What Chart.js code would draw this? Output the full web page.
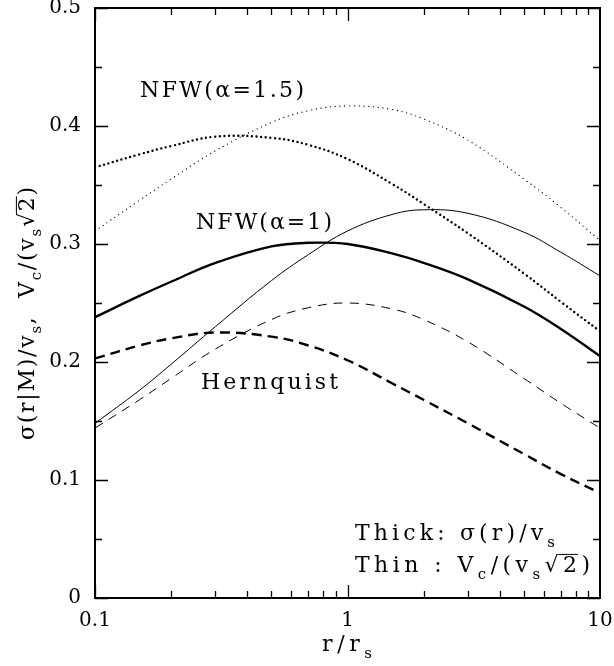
<!DOCTYPE html>
<html>
<head>
<meta charset="utf-8">
<script src="https://cdn.jsdelivr.net/npm/chart.js@4/dist/chart.umd.min.js"></script>
<style>
  html, body { margin: 0; padding: 0; background: #fff; }
  canvas { display: block; }
</style>
</head>
<body>
<canvas id="chart" width="614" height="666"></canvas>
<script>
// radius in units of r_s
const radii = [0.1, 0.15, 0.2, 0.3, 0.5, 0.7, 1, 1.5, 2, 3, 5, 7, 10];

// thick lines: sigma(r)/v_s, thin lines: V_c/(v_s sqrt 2)
const sigmaNfw15 = [0.365, 0.376, 0.383, 0.391, 0.390, 0.384, 0.372, 0.351, 0.334, 0.309, 0.275, 0.251, 0.226];
const vcNfw15    = [0.311, 0.337, 0.355, 0.379, 0.403, 0.413, 0.417, 0.414, 0.406, 0.388, 0.355, 0.331, 0.303];
const sigmaNfw1  = [0.238, 0.256, 0.268, 0.284, 0.298, 0.301, 0.300, 0.292, 0.284, 0.270, 0.247, 0.228, 0.205];
const vcNfw1     = [0.148, 0.176, 0.198, 0.230, 0.269, 0.291, 0.311, 0.325, 0.329, 0.326, 0.310, 0.293, 0.273];
const sigmaHern  = [0.203, 0.214, 0.220, 0.225, 0.2215, 0.214, 0.2015, 0.182, 0.168, 0.148, 0.122, 0.105, 0.089];
const vcHern     = [0.144, 0.168, 0.186, 0.211, 0.236, 0.246, 0.250, 0.245, 0.236, 0.217, 0.186, 0.165, 0.144];

const xTickLabels = [0.1, 1, 10];
const yMajorTicks = [0, 0.1, 0.2, 0.3, 0.4, 0.5];
const yMinorTicks = [0.05, 0.15, 0.25, 0.35, 0.45];

const FONT = 'DejaVu Serif';

function pts(values) {
  return radii.map((r, i) => ({ x: r, y: values[i] }));
}

function line(values, width, dash, cap) {
  return {
    data: pts(values),
    borderColor: '#000',
    borderWidth: width,
    borderDash: dash,
    borderCapStyle: cap || 'butt',
    borderJoinStyle: 'round',
    pointRadius: 0,
    tension: 0.4,
    fill: false,
  };
}

// rich text: segments [{t, sub, over}], spread over a target width
function drawRich(ctx, segs, x, y, size, target) {
  const subSize = Math.round(size * 0.68);
  const chars = [];
  segs.forEach(s => {
    for (const ch of s.t) chars.push({ ch, sub: !!s.sub, over: !!s.over });
  });
  let natural = 0;
  chars.forEach(c => {
    ctx.font = `${c.sub ? subSize : size}px "${FONT}"`;
    c.w = ctx.measureText(c.ch).width;
    natural += c.w;
  });
  const ls = target ? Math.max(0, (target - natural) / (chars.length - 1)) : 0;
  let cx = x;
  chars.forEach(c => {
    ctx.font = `${c.sub ? subSize : size}px "${FONT}"`;
    const cy = c.sub ? y + size * 0.3 : y;
    ctx.fillText(c.ch, cx, cy);
    if (c.over) {
      ctx.beginPath();
      ctx.lineWidth = 1;
      ctx.moveTo(cx - ls, y - size * 0.8);
      ctx.lineTo(cx + c.w + 1, y - size * 0.8);
      ctx.stroke();
    }
    cx += c.w + ls;
  });
}

const frame = {
  id: 'frame',
  afterDraw(chart) {
    const { ctx, chartArea: a, scales: { x, y } } = chart;
    ctx.save();
    ctx.strokeStyle = '#000';
    ctx.fillStyle = '#000';
    ctx.lineWidth = 1.3;

    const major = 13, minor = 7;
    ctx.beginPath();
    yMajorTicks.concat(yMinorTicks).forEach(v => {
      const len = yMajorTicks.includes(v) ? major : minor;
      const py = Math.round(y.getPixelForValue(v)) + 0.5;
      ctx.moveTo(a.left, py); ctx.lineTo(a.left + len, py);
      ctx.moveTo(a.right, py); ctx.lineTo(a.right - len, py);
    });
    [0.1, 1].forEach(d => {
      for (let k = 1; k <= 9; k++) {
        const v = d * k;
        const len = k === 1 ? major : minor;
        const px = Math.round(x.getPixelForValue(v)) + 0.5;
        ctx.moveTo(px, a.bottom); ctx.lineTo(px, a.bottom - len);
        ctx.moveTo(px, a.top); ctx.lineTo(px, a.top + len);
      }
    });
    ctx.stroke();

    ctx.lineWidth = 2;
    ctx.strokeRect(a.left, a.top, a.right - a.left, a.bottom - a.top);

    ctx.textBaseline = 'alphabetic';
    ctx.textAlign = 'left';
    drawRich(ctx, [{ t: 'NFW(α=1.5)' }], 140, 97, 22, 164);
    drawRich(ctx, [{ t: 'NFW(α=1)' }], 196, 229, 22, 136);
    drawRich(ctx, [{ t: 'Hernquist' }], 201, 389, 22, 137);
    drawRich(ctx, [{ t: 'Thick: σ(r)/v' }, { t: 's', sub: true }], 355, 540, 22, 200);
    drawRich(ctx, [{ t: 'Thin : V' }, { t: 'c', sub: true }, { t: '/(v' }, { t: 's', sub: true },
                   { t: '√' }, { t: '2', over: true }, { t: ')' }], 355, 572, 22, 235);

    // axis titles
    drawRich(ctx, [{ t: 'r/r' }, { t: 's', sub: true }], 322, 651, 22, 50);
    ctx.translate(34, 314);
    ctx.rotate(-Math.PI / 2);
    drawRich(ctx, [{ t: 'σ(r|M)/v' }, { t: 's', sub: true }, { t: ',  V' }, { t: 'c', sub: true },
                   { t: '/(v' }, { t: 's', sub: true }, { t: '√' }, { t: '2', over: true }, { t: ')' }],
             -126, 0, 22, 253);
    ctx.restore();
  },
};

new Chart(document.getElementById('chart'), {
  type: 'line',
  data: {
    datasets: [
      line(sigmaNfw15, 2.4, [0, 4.6], 'round'),
      line(vcNfw15, 1.3, [0, 4.8], 'round'),
      line(sigmaNfw1, 2.4, []),
      line(vcNfw1, 1, []),
      line(sigmaHern, 2.4, [10, 6]),
      line(vcHern, 1, [9, 7]),
    ],
  },
  options: {
    responsive: false,
    animation: false,
    devicePixelRatio: 1,
    layout: { padding: { left: 0, right: 14, top: 8, bottom: 0 } },
    plugins: { legend: { display: false }, tooltip: { enabled: false } },
    scales: {
      x: {
        type: 'logarithmic',
        min: 0.1,
        max: 10,
        afterBuildTicks: s => { s.ticks = xTickLabels.map(v => ({ value: v })); },
        afterFit: s => { s.height = 68; s.paddingLeft = 0; s.paddingRight = 0; },
        ticks: {
          callback: v => String(v),
          font: { family: FONT, size: 20 },
          color: '#000',
          padding: 11,
          maxRotation: 0,
        },
        grid: { display: false, drawTicks: false },
        border: { display: false },
      },
      y: {
        min: 0,
        max: 0.5,
        afterBuildTicks: s => { s.ticks = yMajorTicks.map(v => ({ value: v })); },
        afterFit: s => { s.width = 95; s.paddingTop = 0; s.paddingBottom = 0; },
        ticks: {
          font: { family: FONT, size: 20 },
          color: '#000',
          padding: 14,
        },
        grid: { display: false, drawTicks: false },
        border: { display: false },
      },
    },
  },
  plugins: [frame],
});
</script>
</body>
</html>
